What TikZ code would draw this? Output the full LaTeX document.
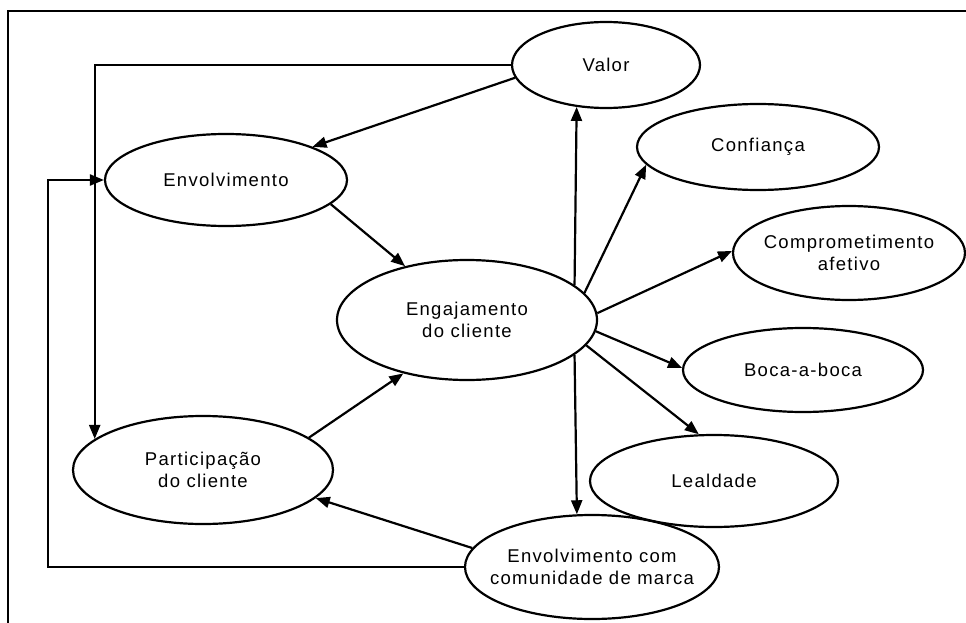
\documentclass[tikz,border=0pt]{standalone}
\usepackage{fontspec}
\setmainfont{Liberation Sans}[LetterSpace=7]
\usetikzlibrary{shapes.geometric,arrows.meta}
\begin{document}
\begin{tikzpicture}[x=1pt,y=-1pt,
  ell/.style={draw, ellipse, line width=2.2pt, inner sep=-40pt, align=center,
    font=\fontsize{18.5}{22.5}\selectfont},
  arr/.style={line width=2.2pt, -{Triangle[length=14pt,width=11pt]}},
  frameline/.style={line width=2pt}]
\useasboundingbox (0,0) rectangle (966,623);
\draw[frameline] (8,623) -- (8,11) -- (966,11);
\node[ell, minimum width=188pt, minimum height=86pt] (valor) at (606,65) {Valor};
\node[ell, minimum width=242pt, minimum height=92pt] (env) at (226,180) {Envolvimento};
\node[ell, minimum width=260pt, minimum height=120pt] (eng) at (467,320) {Engajamento\\do cliente};
\node[ell, minimum width=242pt, minimum height=86pt] (conf) at (758,147) {Confiança};
\node[ell, minimum width=232pt, minimum height=94pt] (comp) at (849,253) {Comprometimento\\afetivo};
\node[ell, minimum width=240pt, minimum height=84pt] (boca) at (803,370) {Boca-a-boca};
\node[ell, minimum width=248pt, minimum height=92pt] (leal) at (714,481) {Lealdade};
\node[ell, minimum width=254pt, minimum height=104pt] (comm) at (592,567) {Envolvimento com\\comunidade de marca};
\node[ell, minimum width=260pt, minimum height=108pt] (part) at (203,470) {Participação\\do cliente};
\coordinate (fbx) at (48,0);
\draw[arr] (valor.west) -| (part.164);
\draw[arr] (valor.188) -- (env.21);
\draw[arr] (comm.west) -- (comm.west -| fbx) |- (env.west);
\draw[arr] (env.-13) -- (eng.139.5);
\draw[arr] (part.17) -- (eng.220.5);
\draw[arr] (comm.171) -- (part.-14);
\draw[arr] (eng.18.6) -- (valor.235.7);
\draw[arr] (eng.13) -- (conf.189);
\draw[arr] (eng.3.5) -- (comp.179);
\draw[arr] (eng.-5) -- (boca.179);
\draw[arr] (eng.-12) -- (leal.108);
\draw[arr] (eng.-18.6) -- (comm.106);
\end{tikzpicture}
\end{document}
